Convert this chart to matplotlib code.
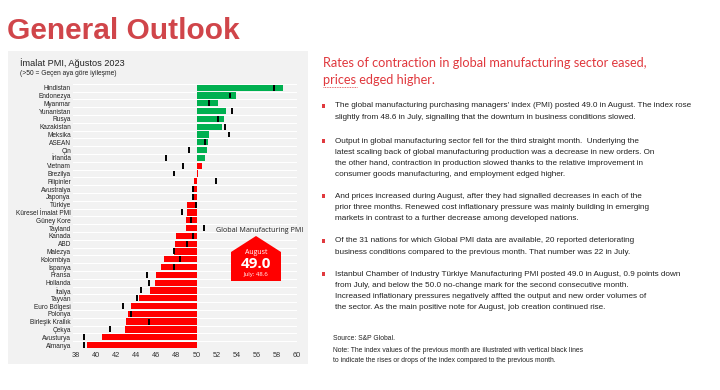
import matplotlib
matplotlib.use("Agg")
import matplotlib.pyplot as plt
from matplotlib.patches import Rectangle, Polygon
from matplotlib.lines import Line2D

countries = ["Hindistan", "Endonezya", "Myanmar", "Yunanistan", "Rusya", "Kazakistan",
             "Meksika", "ASEAN", "Çin", "İrlanda", "Vietnam", "Brezilya", "Filipinler",
             "Avustralya", "Japonya", "Türkiye", "Küresel İmalat PMI", "Güney Kore",
             "Tayland", "Kanada", "ABD", "Malezya", "Kolombiya", "İspanya", "Fransa",
             "Hollanda", "İtalya", "Tayvan", "Euro Bölgesi", "Polonya", "Birleşik Krallık",
             "Çekya", "Avusturya", "Almanya"]
pmi_aug = [58.6, 53.9, 52.1, 52.9, 52.7, 52.5, 51.2, 51.1, 51.0, 50.8, 50.5, 50.1, 49.7,
           49.6, 49.6, 49.0, 49.0, 48.9, 48.9, 48.0, 47.9, 47.8, 46.8, 46.5, 46.0,
           45.9, 45.4, 44.3, 43.5, 43.2, 43.0, 42.9, 40.6, 39.1]
pmi_jul = [57.7, 53.3, 51.2, 53.5, 52.1, 52.8, 53.2, 50.8, 49.2, 47.0, 48.7, 47.8, 51.9,
           49.6, 49.6, 49.9, 48.6, 49.4, 50.7, 49.6, 49.0, 47.8, 48.4, 47.8, 45.1,
           45.3, 44.5, 44.1, 42.7, 43.5, 45.3, 41.4, 38.8, 38.8]
bar_group = ["up"] * 10 + ["down"] * 24
xticks = [38, 40, 42, 44, 46, 48, 50, 52, 54, 56, 58, 60]

W, H = 720, 390
fig = plt.figure(figsize=(7.2, 3.9), dpi=100)
fig.patch.set_facecolor("white")

def fx(x): return x / W
def fy(y): return 1 - y / H

# Title
fig.text(fx(7), fy(39), "General Outlook", fontsize=21.5, fontweight="bold",
         color="#d0454a", family="Liberation Sans", va="baseline", ha="left")

# Grey panel
fig.patches.append(Rectangle((fx(8), fy(364)), fx(300), (364 - 51) / H,
                             transform=fig.transFigure, facecolor="#f2f2f2",
                             edgecolor="none", zorder=-5))

fig.text(fx(20), fy(66), "İmalat PMI, Ağustos 2023", fontsize=6.6, color="#222222",
         family="Liberation Sans", va="baseline")
fig.text(fx(20), fy(75), "(>50 = Geçen aya göre iyileşme)", fontsize=4.8, color="#222222",
         family="Liberation Sans", va="baseline")

# Chart axes
top, bottom = 83.8, 348.9
left, right = 73, 297
ax = fig.add_axes([fx(left), fy(bottom), (right - left) / W, (bottom - top) / H])
ax.set_facecolor("#f2f2f2")
ax.set_zorder(1)
n = len(countries)
ys = list(range(n))
colors = {"up": "#00b050", "down": "#ff0000"}
ax.barh(ys, [v - 50 for v in pmi_aug], left=50, height=0.8,
        color=[colors[g] for g in bar_group], zorder=2)
ax.vlines(pmi_jul, [y - 0.38 for y in ys], [y + 0.38 for y in ys], color="black",
          lw=1.4, zorder=3)
for i in range(n + 1):
    ax.axhline(i - 0.5, color="white", lw=0.8, zorder=1)
ax.set_ylim(n - 0.5, -0.5)
ax.set_xlim(37.7, 60.0)
ax.set_yticks(ys)
ax.set_yticklabels(countries, fontsize=4.7, family="Liberation Sans", color="#222222")
ax.set_xticks(xticks)
ax.set_xticklabels([str(t) for t in xticks], fontsize=5.3, family="Liberation Sans",
                   color="#333333")
ax.tick_params(length=0, pad=1.5)
ax.tick_params(axis="x", pad=2.5)
for s in ax.spines.values():
    s.set_visible(False)

# Badge
fig.text(fx(260), fy(232), "Global Manufacturing PMI", fontsize=5.1, color="#222222",
         family="Open Sans", ha="center", va="baseline", zorder=6)
pts = [(231, 281), (231, 252), (256, 236), (281, 252), (281, 281)]
fig.patches.append(Polygon([(fx(x), fy(y)) for x, y in pts], closed=True,
                           transform=fig.transFigure, facecolor="#ff0000",
                           edgecolor="none", zorder=5))
fig.text(fx(256), fy(253), "August", fontsize=5.0, color="white", family="Open Sans",
         ha="center", va="center", zorder=6)
fig.text(fx(256), fy(264), "49.0", fontsize=11, color="white", family="Open Sans",
         fontweight="bold", ha="center", va="center", zorder=6)
fig.text(fx(256), fy(274.5), "July: 48.6", fontsize=4.3, color="white", family="Open Sans",
         ha="center", va="center", zorder=6)

# Right side text
head_c = "#e0393e"
fig.text(fx(323), fy(67), "Rates of contraction in global manufacturing sector eased,",
         fontsize=9.2, color=head_c, family="Lato", va="baseline")
fig.text(fx(323), fy(84), "prices edged higher.", fontsize=9.2, color=head_c,
         family="Lato", va="baseline")
fig.lines.append(Line2D([fx(323), fx(357)], [fy(86.5), fy(86.5)], transform=fig.transFigure,
                        color="#e0393e", lw=0.6, ls=(0, (1, 1))))

bullets = [
    (106, ["The global manufacturing purchasing managers' index (PMI) posted 49.0 in August. The index rose",
           "slightly from 48.6 in July, signalling that the downturn in business conditions slowed."]),
    (141, ["Output in global manufacturing sector fell for the third straight month.  Underlying the",
           "latest scaling back of global manufacturing production was a decrease in new orders. On",
           "the other hand, contraction in production slowed thanks to the relative improvement in",
           "consumer goods manufacturing, and employment edged higher."]),
    (196, ["And prices increased during August, after they had signalled decreases in each of the",
           "prior three months. Renewed cost inflationary pressure was mainly building in emerging",
           "markets in contrast to a further decrease among developed nations."]),
    (241, ["Of the 31 nations for which Global PMI data are available, 20 reported deteriorating",
           "business conditions compared to the previous month. That number was 22 in July."]),
    (274, ["Istanbul Chamber of Industry Türkiye Manufacturing PMI posted 49.0 in August, 0.9 points down",
           "from July, and below the 50.0 no-change mark for the second consecutive month.",
           "Increased inflationary pressures negatively affted the output and new order volumes of",
           "the sector. As the main positive note for August, job creation continued rise."]),
]
for y0, lines in bullets:
    fig.patches.append(Rectangle((fx(322), fy(y0 + 1.6)), 3.2 / W, 3.2 / H,
                                 transform=fig.transFigure, facecolor="#e0393e",
                                 edgecolor="none"))
    for k, line in enumerate(lines):
        fig.text(fx(335), fy(y0 + 11.3 * k), line, fontsize=5.85, color="#222222",
                 family="Liberation Sans", va="center")

fig.text(fx(333), fy(338), "Source: S&P Global.", fontsize=4.9, color="#222222",
         family="Liberation Sans", va="center")
fig.text(fx(333), fy(351), "Note: The index values of the previous month are illustrated with vertical black lines",
         fontsize=4.9, color="#222222", family="Liberation Sans", va="center")
fig.text(fx(333), fy(361), "to indicate the rises or drops of the index compared to the previous month.",
         fontsize=4.9, color="#222222", family="Liberation Sans", va="center")

fig.savefig("out.png", dpi=100)
